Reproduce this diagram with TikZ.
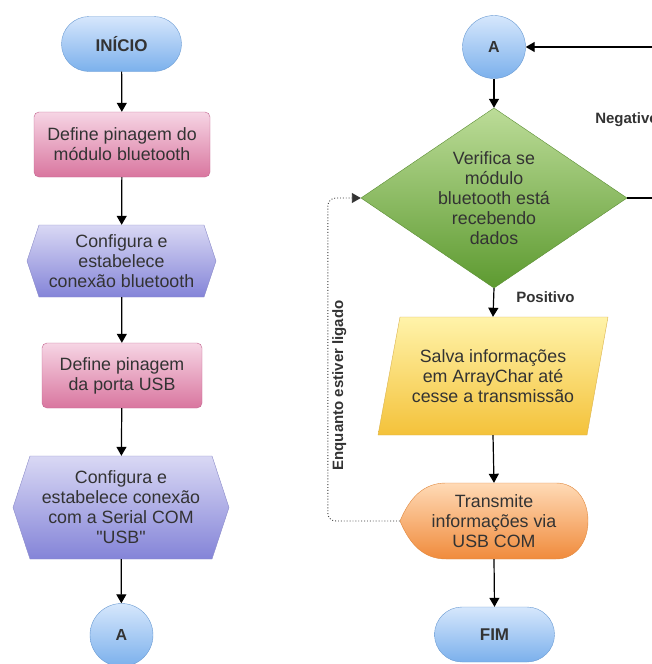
\documentclass[tikz,border=0pt]{standalone}
\usepackage{fontspec}
\setmainfont{Liberation Sans}
\usepackage{xcolor}
\usetikzlibrary{positioning,arrows.meta,calc,shapes.misc}

\definecolor{bluetop}{HTML}{D6E7FC}
\definecolor{bluebot}{HTML}{7BB0EC}
\definecolor{blueline}{HTML}{6A9BD3}
\definecolor{pinktop}{HTML}{F6D5E4}
\definecolor{pinkbot}{HTML}{D9769F}
\definecolor{pinkline}{HTML}{C26590}
\definecolor{purptop}{HTML}{D9D8F4}
\definecolor{purpbot}{HTML}{8484D8}
\definecolor{purpline}{HTML}{8B8BC9}
\definecolor{greentop}{HTML}{BCDC98}
\definecolor{greenbot}{HTML}{5D9A30}
\definecolor{greenline}{HTML}{5B8E33}
\definecolor{yeltop}{HTML}{FFF3AA}
\definecolor{yelbot}{HTML}{F4C23A}
\definecolor{yelline}{HTML}{DAB24C}
\definecolor{orgtop}{HTML}{FFDAB6}
\definecolor{orgbot}{HTML}{F08B3C}
\definecolor{orgline}{HTML}{E0893F}
\definecolor{txt}{HTML}{333333}

\begin{document}
\begin{tikzpicture}[x=1pt,y=1pt,
  every node/.style={font=\fontsize{17.8}{20}\selectfont, text=txt, align=center, inner sep=2pt},
  term/.style={rounded rectangle, draw=blueline, top color=bluetop, bottom color=bluebot,
    minimum width=124pt, minimum height=55pt, font=\fontsize{17}{20}\selectfont\bfseries},
  conn/.style={circle, draw=blueline, top color=bluetop, bottom color=bluebot,
    minimum size=63pt, font=\fontsize{16}{20}\selectfont\bfseries},
  pinbox/.style={rounded corners=5pt, draw=pinkline, top color=pinktop, bottom color=pinkbot,
    minimum height=65pt},
  lbl/.style={font=\fontsize{15}{17}\selectfont\bfseries},
  flow/.style={draw=black, line width=1.2pt, -{Triangle[length=9pt,width=10pt]}},
  loop/.style={draw=black!80, line width=0.9pt, dotted, rounded corners=8pt, -{Triangle[length=9pt,width=10pt]}}]
\useasboundingbox (0,0) rectangle (652,-664);
\clip (0,0) rectangle (652,-664);

% left column
\node[term] (ini) at (121.5,-44) {INÍCIO};
\node[pinbox, minimum width=176pt] (def1) at (122,-144.5) {Define pinagem do\\módulo bluetooth};
\path[top color=purptop, bottom color=purpbot, draw=purpline]
  (27,-261) -- (39,-225) -- (204,-225) -- (216,-261) -- (204,-297) -- (39,-297) -- cycle;
\node[minimum width=189pt, minimum height=72pt] (cfg1) at (121.5,-261) {Configura e\\estabelece\\conexão bluetooth};
\node[pinbox, minimum width=160pt] (def2) at (122,-375.5) {Define pinagem\\da porta USB};
\path[top color=purptop, bottom color=purpbot, draw=purpline]
  (13,-507.5) -- (30,-456) -- (212,-456) -- (229,-507.5) -- (212,-559) -- (30,-559) -- cycle;
\node[minimum width=216pt, minimum height=103pt] (cfg2) at (121,-507.5) {Configura e\\estabelece conexão\\com a Serial COM\\\textquotedbl USB\textquotedbl};
\node[conn] (A1) at (121.5,-635) {A};

\draw[flow] (ini) -- (def1);
\draw[flow] (def1) -- (cfg1);
\draw[flow] (cfg1) -- (def2);
\draw[flow] (def2) -- (cfg2);
\draw[flow] (cfg2) -- (A1);

% right column
\node[conn] (A2) at (494,-47) {A};
\path[top color=greentop, bottom color=greenbot, draw=greenline]
  (494,-108) -- (627,-198) -- (494,-288) -- (361,-198) -- cycle;
\node[minimum width=266pt, minimum height=180pt] (dec) at (494,-198) {Verifica se\\módulo\\bluetooth está\\recebendo\\dados};
\path[top color=yeltop, bottom color=yelbot, draw=yelline]
  (400,-317) -- (608,-317) -- (587,-435) -- (378,-435) -- cycle;
\node[minimum width=230pt, minimum height=118pt] (sav) at (493,-376) {Salva informações\\em ArrayChar até\\cesse a transmissão};
\path[top color=orgtop, bottom color=orgbot, draw=orgline]
  (400,-521) .. controls (410,-497) and (424,-483) .. (446,-483) -- (556,-483)
  .. controls (576,-483) and (588,-500) .. (588,-521)
  .. controls (588,-542) and (576,-559) .. (556,-559) -- (446,-559)
  .. controls (424,-559) and (410,-545) .. (400,-521) -- cycle;
\node[minimum width=188pt, minimum height=76pt] (tra) at (494,-521) {Transmite\\informações via\\USB COM};
\node[term] (fim) at (494.5,-634.5) {FIM};

\draw[flow] (A2.south) -- (dec.north);
\draw[flow] (dec.south) -- node[lbl, pos=0.3, right=20pt] {Positivo} (sav.north);
\draw[flow] (sav.south) -- (tra.north);
\draw[flow] (tra.south) -- (fim.north);
\draw[loop] (tra.west) -- ++(-72,0) coordinate (c1)
  -- node[lbl, pos=0.42, rotate=90, anchor=north, inner sep=4pt] {Enquanto estiver ligado} (c1 |- dec.west)
  -- (dec.west);
\draw[flow] (dec.east) -- ++(38,0) coordinate (c2)
  -- node[lbl, pos=0.52, left=4pt] {Negativo} (c2 |- A2.east) -- (A2.east);
\end{tikzpicture}
\end{document}
